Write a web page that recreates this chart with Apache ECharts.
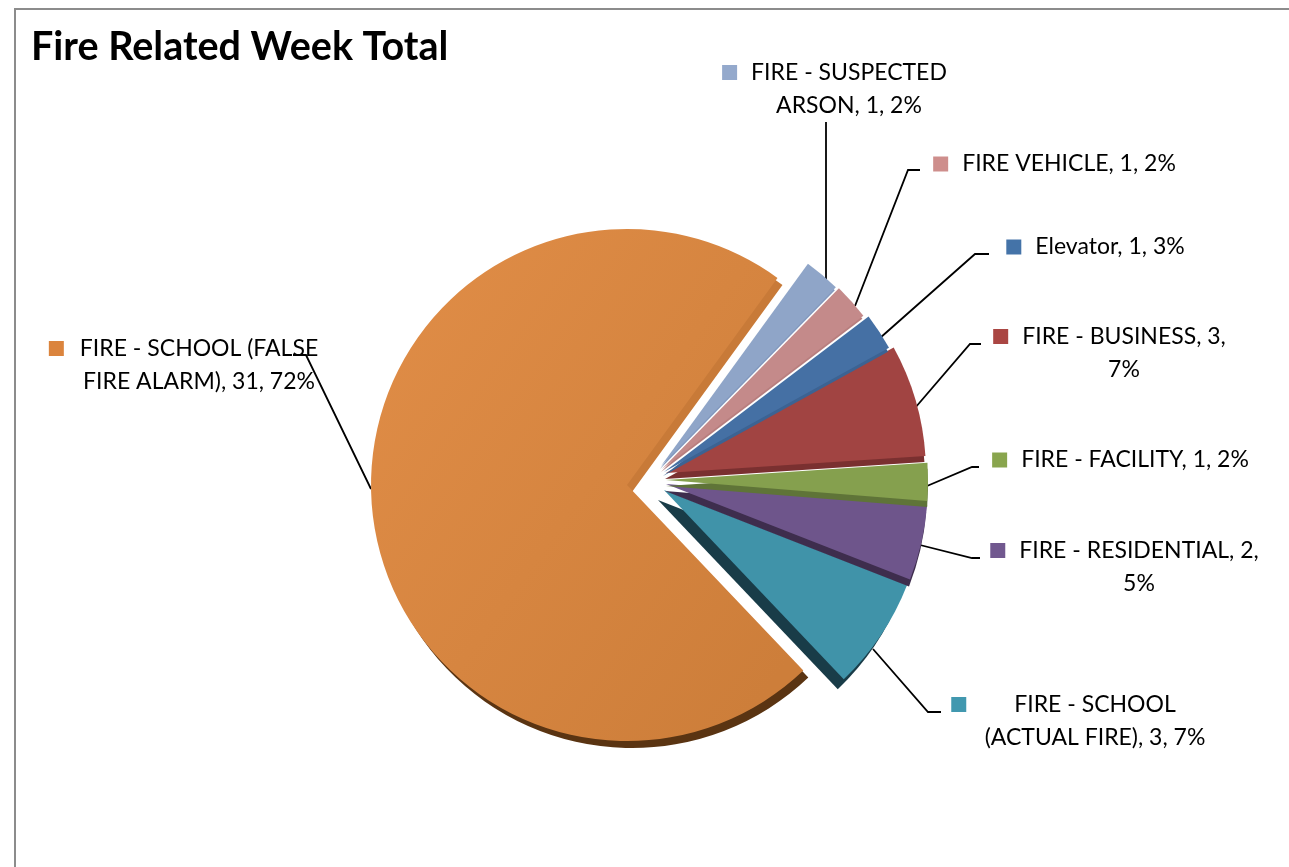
<!DOCTYPE html>
<html>
<head>
<meta charset="utf-8">
<title>Fire Related Week Total</title>
<script src="https://cdn.jsdelivr.net/npm/echarts@6/dist/echarts.min.js"></script>
<style>
  html, body { margin: 0; padding: 0; background: #fff; }
  #chart { width: 1289px; height: 867px; }
</style>
</head>
<body>
<div id="chart"></div>
<script>
// clockwise from the top right gap
const categories = ['FIRE - SUSPECTED ARSON', 'FIRE VEHICLE', 'Elevator', 'FIRE - BUSINESS', 'FIRE - FACILITY', 'FIRE - RESIDENTIAL', 'FIRE - SCHOOL (ACTUAL FIRE)', 'FIRE - SCHOOL (FALSE FIRE ALARM)']
const counts = [1, 1, 1, 3, 1, 2, 3, 31]
const percents = [2, 2, 3, 7, 2, 5, 7, 72]
// where the second line of each label starts
const wrapAt = ['ARSON', '', '', '7%', '', '5%', '(ACTUAL', 'FIRE ALARM']

const faceColors = ['#8fa5c8', '#c48a8a', '#4570a4', '#a14442', '#85a04e', '#6e558b', '#4093a9', '#d2823e']
const wallColors = ['#8299bf', '#b87e7e', '#3c6393', '#7a3030', '#5f7438', '#3e2d4d', '#193c48', '#5a3412']
const keyColors = ['#94a9cc', '#ce8e8c', '#4473a8', '#aa4643', '#89a54e', '#71588f', '#4198af', '#db843d']

// each slice is pulled out on its own, the 3d edge is a second pie under it
const centers = [[661, 466], [662, 469], [664, 472], [666, 473], [666, 480], [666, 484], [664, 490], [627, 485]]
const radii = [250, 253, 257, 260, 262, 262, 261, 256]
const wallShift = [[-1, 3], [-1, 3], [-1, 4], [-1, 6], [0, 6], [-1, 7], [-6, 10], [5, 7]]

const labelBoxes = [
  { x: 849, y: 89, gap: 14 },
  { x: 1069, y: 164, gap: 14 },
  { x: 1110, y: 247, gap: 14 },
  { x: 1124, y: 353, gap: 14 },
  { x: 1135, y: 460, gap: 14 },
  { x: 1139, y: 567, gap: 14 },
  { x: 1095, y: 721, gap: 48 },
  { x: 199, y: 365, gap: 16 }
]
const leaderLines = [
  [[826, 283], [826, 122], [826, 122]],
  [[855, 306], [908, 170], [920, 170]],
  [[880, 338], [975, 254], [989, 254]],
  [[915, 408], [970, 344], [981, 344]],
  [[927, 486], [972, 467], [979, 467]],
  [[920, 545], [972, 558], [980, 558]],
  [[873, 649], [928, 712], [941, 712]],
  [[371, 489], [306, 355], [293, 355]]
]

const FONT = 'Lato, Carlito, "Open Sans", sans-serif'

function labelText(i) {
  let text = categories[i] + ', ' + counts[i] + ', ' + percents[i] + '%'
  if (wrapAt[i]) text = text.replace(' ' + wrapAt[i], '\n' + wrapAt[i])
  const lines = text.split('\n')
  lines[0] = '{key|}{gap|}{txt|' + lines[0] + '}{pad|}'
  if (lines[1]) lines[1] = '{txt|' + lines[1] + '}'
  return lines.join('\n')
}

function faceFill(i) {
  if (i === 7) {
    return new echarts.graphic.LinearGradient(0, 0.2, 1, 0.8, [
      { offset: 0, color: '#df8c46' },
      { offset: 1, color: '#cd7e3a' }
    ])
  }
  return faceColors[i]
}

function wallFill(i) {
  if (i === 7) {
    // the cut edge at the top is lit, the rim at the bottom is dark
    return new echarts.graphic.LinearGradient(0, 0, 0, 1, [
      { offset: 0, color: '#c87a38' },
      { offset: 0.5, color: '#c87a38' },
      { offset: 0.5, color: wallColors[7] },
      { offset: 1, color: wallColors[7] }
    ])
  }
  return wallColors[i]
}

function sliceSeries(i, isWall) {
  const data = counts.map((v, j) => {
    if (j !== i) {
      return { value: v, name: categories[j], itemStyle: { color: 'transparent' }, label: { show: false }, labelLine: { show: false } }
    }
    const item = { value: v, name: categories[j], itemStyle: { color: isWall ? wallFill(i) : faceFill(i) } }
    if (isWall) {
      item.label = { show: false }
      item.labelLine = { show: false }
    } else {
      item.label = {
        show: true,
        formatter: labelText(i),
        lineHeight: 33,
        rich: {
          key: { width: 15, height: 15, backgroundColor: keyColors[i] },
          gap: { width: labelBoxes[i].gap },
          pad: { width: 15 + labelBoxes[i].gap },
          txt: { fontFamily: FONT, fontSize: 23, color: '#000', lineHeight: 33 }
        }
      }
      item.labelLine = { show: true, smooth: false, lineStyle: { color: '#000', width: 1.8 } }
    }
    return item
  })
  const shift = isWall ? wallShift[i] : [0, 0]
  return {
    type: 'pie',
    silent: true,
    animation: false,
    startAngle: 54,
    clockwise: true,
    radius: [0, radii[i]],
    center: [centers[i][0] + shift[0], centers[i][1] + shift[1]],
    avoidLabelOverlap: false,
    label: { fontFamily: FONT, fontSize: 23, color: '#000' },
    labelLayout: (params) => {
      if (isWall || params.dataIndex !== i) return {}
      return {
        x: labelBoxes[i].x,
        y: labelBoxes[i].y,
        align: 'center',
        verticalAlign: 'middle',
        labelLinePoints: leaderLines[i]
      }
    },
    data
  }
}

// the big slice goes first, then bottom to top so upper edges lie over the slice below
const drawOrder = [7, 6, 5, 4, 3, 2, 1, 0]
const series = []
drawOrder.forEach((i) => {
  series.push(sliceSeries(i, true))
  series.push(sliceSeries(i, false))
})

const myChart = echarts.init(document.getElementById('chart'))
myChart.setOption({
  backgroundColor: '#fff',
  title: {
    text: 'Fire Related Week Total',
    left: 26,
    top: 22,
    textStyle: { fontFamily: FONT, fontSize: 39.5, fontWeight: 'bold', color: '#000' }
  },
  graphic: [
    { type: 'line', shape: { x1: 14, y1: 9, x2: 1289, y2: 9 }, style: { stroke: '#8c8c8c', lineWidth: 2 } },
    { type: 'line', shape: { x1: 15, y1: 8, x2: 15, y2: 867 }, style: { stroke: '#8c8c8c', lineWidth: 2 } }
  ],
  series
})
</script>
</body>
</html>
